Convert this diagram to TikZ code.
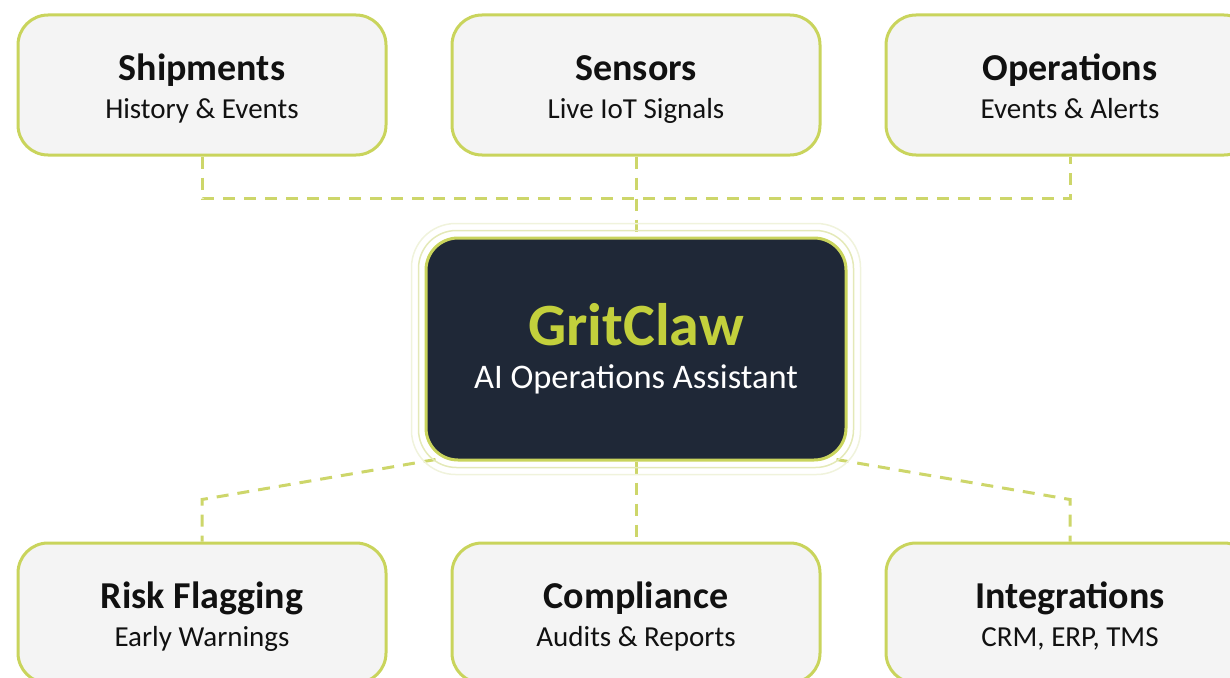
\documentclass[tikz,border=0pt]{standalone}
\usepackage{fontspec}
\setmainfont{Carlito}
\usetikzlibrary{calc,backgrounds}
\definecolor{lime}{HTML}{C9D45C}
\definecolor{limedash}{HTML}{CDD66A}
\definecolor{limetext}{HTML}{C3D03C}
\definecolor{navy}{HTML}{1F2837}
\definecolor{cardfill}{HTML}{F4F4F4}
\definecolor{ringA}{HTML}{E4E9B8}
\definecolor{ringB}{HTML}{F0F3DC}
\definecolor{ink}{HTML}{111111}
\newcommand{\cardtext}[2]{\rule{0pt}{40pt}{\fontsize{38}{40}\selectfont\bfseries #1}\\#2\rule[-12pt]{0pt}{12pt}}
\newcommand{\coretext}[2]{\rule{0pt}{47pt}{\fontsize{60}{62}\selectfont\bfseries\color{limetext}#1}\\#2\rule[-12pt]{0pt}{12pt}}
\tikzset{
  card/.style={draw=lime, line width=3pt, fill=cardfill, rounded corners=30pt,
    minimum width=368pt, minimum height=140pt, align=center, text=ink,
    font=\fontsize{29}{38}\selectfont, inner sep=0pt},
  corebox/.style={draw=lime, line width=3pt, fill=navy, rounded corners=32pt,
    minimum width=420pt, minimum height=222pt, align=center, text=white,
    font=\fontsize{34.5}{43}\selectfont, inner sep=0pt},
  link/.style={draw=limedash, line width=3pt, dash pattern=on 12pt off 9pt},
  ring/.style={line width=1.5pt},
}
\begin{document}
\begin{tikzpicture}[x=1pt,y=-1pt]
\useasboundingbox (0,0) rectangle (1230,677);
\node[card] (ship) at (202,85) {\cardtext{Shipments}{History \& Events}};
\node[card] (sens) at (636,85) {\cardtext{Sensors}{Live IoT Signals}};
\node[card] (ops) at (1070,85) {\cardtext{Operations}{Events \& Alerts}};
\node[card] (risk) at (202,613) {\cardtext{Risk Flagging}{Early Warnings}};
\node[card] (comp) at (636,613) {\cardtext{Compliance}{Audits \& Reports}};
\node[card] (integ) at (1070,613) {\cardtext{Integrations}{CRM, ERP, TMS}};
\node[corebox] (core) at (636,349) {\coretext{GritClaw}{AI Operations Assistant}};
\coordinate (bl) at ($(core.south west)+(11,-2)$);
\coordinate (br) at ($(core.south east)+(-11,-2)$);
\begin{scope}[on background layer]
  \draw[link] (ship.south) -- ++(0,42) -| (ops.south);
  \draw[link] (sens.south) -- (core.north);
  \draw[link] (bl) -- ($(risk.north)+(0,-42)$) -- (risk.north);
  \draw[link] (br) -- ($(integ.north)+(0,-42)$) -- (integ.north);
  \draw[link] (core.south) -- (comp.north);
\end{scope}
\draw[ring, draw=ringA, rounded corners=38pt] ($(core.north west)+(-6,-6)$) rectangle ($(core.south east)+(6,6)$);
\draw[ring, draw=ringB, rounded corners=44pt] ($(core.north west)+(-13,-13)$) rectangle ($(core.south east)+(13,13)$);
\end{tikzpicture}
\end{document}
